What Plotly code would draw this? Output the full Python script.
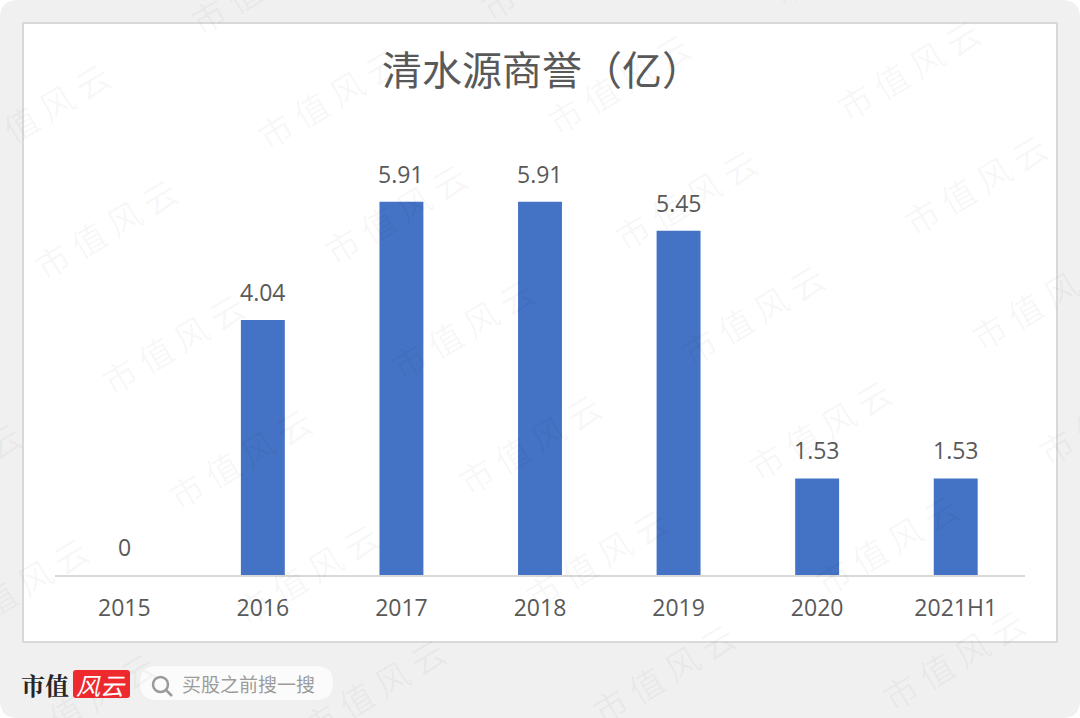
import plotly.graph_objects as go

categories = ["2015", "2016", "2017", "2018", "2019", "2020", "2021H1"]
values = [0, 4.04, 5.91, 5.91, 5.45, 1.53, 1.53]
value_labels = ["0", "4.04", "5.91", "5.91", "5.45", "1.53", "1.53"]
title_text = "清水源商誉（亿）"
watermark_text = "市 值 风 云"
brand_text = "市值"
brand_badge = "风云"
search_text = "买股之前搜一搜"

W, H = 1080, 718
ML, MR, MT, MB = 55, 55, 133, 143
PW, PH = W - ML - MR, H - MT - MB
CJK = "Noto Sans CJK SC"
NUM = "Open Sans"
TXT = "#595959"


def px(x):
    return (x - ML) / PW


def py(y):
    return (H - MB - y) / PH


def rrect(x0, y0, x1, y1, r):
    return (
        f"M {px(x0 + r)} {py(y0)} L {px(x1 - r)} {py(y0)} "
        f"Q {px(x1)} {py(y0)} {px(x1)} {py(y0 + r)} L {px(x1)} {py(y1 - r)} "
        f"Q {px(x1)} {py(y1)} {px(x1 - r)} {py(y1)} L {px(x0 + r)} {py(y1)} "
        f"Q {px(x0)} {py(y1)} {px(x0)} {py(y1 - r)} L {px(x0)} {py(y0 + r)} "
        f"Q {px(x0)} {py(y0)} {px(x0 + r)} {py(y0)} Z"
    )


shapes = [
    dict(type="path", path=rrect(0, 0, W, H, 18), xref="paper", yref="paper",
         fillcolor="#f0f0f0", line_width=0, layer="below"),
    dict(type="rect", xref="paper", yref="paper", x0=px(23), x1=px(1057), y0=py(23), y1=py(642),
         fillcolor="#ffffff", line=dict(color="#d9d9d9", width=2), layer="below"),
    dict(type="path", path=rrect(73, 670, 130, 698, 3), xref="paper", yref="paper",
         fillcolor="#ee2a2e", line_width=0, layer="below"),
    dict(type="path", path=rrect(140, 666, 333, 700, 17), xref="paper", yref="paper",
         fillcolor="#fbfbfb", line_width=0, layer="below"),
    dict(type="circle", xref="paper", yref="paper", x0=px(153), x1=px(168), y0=py(677), y1=py(692),
         fillcolor="rgba(0,0,0,0)", line=dict(color="#9a9a9a", width=2.5), layer="below"),
    dict(type="line", xref="paper", yref="paper", x0=px(166), x1=px(172), y0=py(690), y1=py(696),
         line=dict(color="#9a9a9a", width=2.5), layer="below"),
]

annotations = [
    dict(text=title_text, xref="paper", yref="paper", x=px(542), y=py(68), showarrow=False,
         xanchor="center", yanchor="middle", font=dict(family=CJK, size=40, color=TXT)),
    dict(text=f"<b>{brand_text}</b>", xref="paper", yref="paper", x=px(45), y=py(684), showarrow=False,
         xanchor="center", yanchor="middle", font=dict(family="Noto Serif CJK SC, " + CJK, size=24, color="#262626")),
    dict(text=f"<i>{brand_badge}</i>", xref="paper", yref="paper", x=px(101), y=py(684), showarrow=False,
         xanchor="center", yanchor="middle", font=dict(family=CJK, size=24, color="#ffffff")),
    dict(text=search_text, xref="paper", yref="paper", x=px(248), y=py(683), showarrow=False,
         xanchor="center", yanchor="middle", font=dict(family=CJK, size=19, color="#9c9c9c")),
]

for idx, (val, lab) in enumerate(zip(values, value_labels)):
    annotations.append(dict(text=lab, x=idx, y=val, xref="x", yref="y", showarrow=False,
                            yanchor="middle", xanchor="center", yshift=28,
                            font=dict(family=NUM, size=23, color=TXT)))

# Repeating diagonal watermark over the whole page
for i in range(-3, 6):
    for j in range(-3, 9):
        cx = 105 + 67 * j + 290 * i
        cy = 228 + 115 * j - 14.5 * i
        if -80 < cx < W + 80 and -60 < cy < H + 60:
            annotations.append(dict(text=watermark_text, xref="paper", yref="paper", x=px(cx), y=py(cy),
                                    showarrow=False, xanchor="center", yanchor="middle", textangle=-31,
                                    font=dict(family=CJK, size=34, color="rgba(0,0,0,0.04)")))

fig = go.Figure(go.Bar(x=categories, y=values, marker=dict(color="#4472c4", line_width=0), width=0.317,
                       hoverinfo="skip"))
fig.update_layout(
    width=W, height=H, autosize=False,
    margin=dict(l=ML, r=MR, t=MT, b=MB, pad=0),
    paper_bgcolor="#ffffff", plot_bgcolor="rgba(0,0,0,0)",
    showlegend=False, shapes=shapes, annotations=annotations,
)
fig.update_xaxes(type="category", range=[-0.5, 6.5], showgrid=False, zeroline=False, showline=True,
                 linecolor="#d9d9d9", linewidth=2, ticks="", ticklabelstandoff=11,
                 tickfont=dict(family=NUM, size=23, color=TXT))
fig.update_yaxes(range=[0, 7], visible=False, showgrid=False, zeroline=False)

fig.write_html("out.html", config={"displayModeBar": False},
               post_script="document.body.style.margin='0';document.documentElement.style.overflow='hidden';")
